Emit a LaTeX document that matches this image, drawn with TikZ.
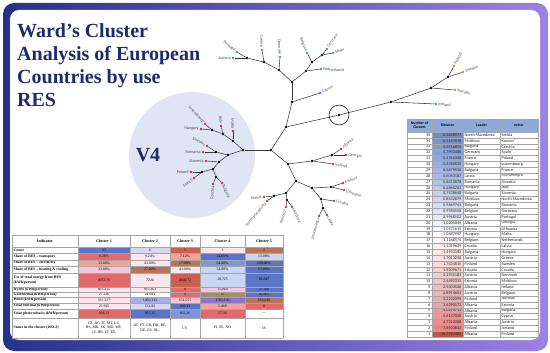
\documentclass[tikz,border=0pt]{standalone}
\usepackage{fontspec}
\setmainfont{Liberation Serif}
\newfontfamily\mapfont{Carlito}

\definecolor{navy}{HTML}{1F2B6C}
\definecolor{framel}{HTML}{27318A}
\definecolor{framer}{HTML}{9C82E2}
\definecolor{vfour}{HTML}{DFE5F2}
\definecolor{branchgray}{HTML}{3A3A3A}
\definecolor{lblgray}{HTML}{505050}
\definecolor{leafgreen}{HTML}{34B34A}
\definecolor{leafred}{HTML}{D8204F}
\definecolor{leafblue}{HTML}{3C6FD6}
\definecolor{leaforange}{HTML}{F07E22}
\definecolor{leafbrown}{HTML}{8E5B3E}
\definecolor{hdrblue}{HTML}{8EAADB}
\definecolor{distblue}{HTML}{4A6FC0}
\definecolor{distred}{HTML}{E25C5C}
\definecolor{distdark}{HTML}{B65A4A}
\definecolor{hmblue}{HTML}{5B74C6}
\definecolor{hmblue2}{HTML}{7F97D6}
\definecolor{hmlblue}{HTML}{C8D6F0}
\definecolor{hmlav}{HTML}{D6D6F2}
\definecolor{hmlav2}{HTML}{A9AEE6}
\definecolor{hmpurple}{HTML}{8A76CC}
\definecolor{hmred}{HTML}{E26A6A}
\definecolor{hmbrick}{HTML}{CF5E4E}
\definecolor{hmsalmon}{HTML}{F1A39B}
\definecolor{hmpink}{HTML}{F7C6D6}
\definecolor{hmlpink}{HTML}{FCE6EE}
\definecolor{hmbrown}{HTML}{B87459}
\definecolor{hmolive}{HTML}{A58A64}

\tikzset{
  titletxt/.style={font=\fontsize{20}{23}\selectfont\bfseries, text=navy, inner sep=0pt, align=left},
  inner/.style={circle, fill=black, inner sep=0pt, minimum size=2.6pt},
  leaf/.style={circle, fill=#1, inner sep=0pt, minimum size=2.6pt},
  lbl/.style={font=\mapfont\fontsize{4.2}{4.6}\selectfont, text=lblgray, inner xsep=2.2pt, inner ysep=0pt},
  branch/.style={draw=branchgray, line width=0.55pt},
  gridln/.style={draw=gray!70, line width=0.35pt},
  hdtxt/.style={font=\fontsize{4}{4.5}\selectfont\bfseries, inner sep=0pt},
  rowtxt/.style={font=\fontsize{3.8}{4.4}\selectfont\bfseries, inner sep=0pt, align=left},
  valtxt/.style={font=\fontsize{3.8}{4.4}\selectfont, inner sep=0pt},
  tabtxt/.style={font=\mapfont\fontsize{4.2}{4.6}\selectfont, text=black!85, inner sep=0pt},
  tabhd/.style={font=\mapfont\fontsize{3.8}{4.2}\selectfont\bfseries, inner sep=0pt, align=center}
}

% one coloured row of the indicator table
\newcommand\heatrow[4]{%
  \foreach \cc/\vv [count=\k] in {#4} {
    \pgfmathsetmacro\xa{{78,130,170,200,245}[\k-1]}
    \pgfmathsetmacro\xb{{130,170,200,245,283}[\k-1]}
    \fill[\cc] (\xa,#1) rectangle (\xb,#2);
    \node[valtxt] (#3\k) at ({(\xa+\xb)/2},{(#1+#2)/2}) {\vv};
  }}

\begin{document}
\begin{tikzpicture}[x=1pt,y=-1pt]

  \useasboundingbox (0,0) rectangle (550,353);

  % frame
  \shade[left color=framel, right color=framer, rounded corners=11pt] (3,3) rectangle (548,351);
  \fill[white, rounded corners=9pt] (10,10) rectangle (540,340);

  % title
  \node[titletxt, anchor=north west] (title) at (17,23) {Ward’s Cluster\\Analysis of European\\Countries by use\\RES};

  % V4 group
  \fill[vfour] (192,155) circle (63);
  \node[titletxt] (v4) at (148,155) {V4};

  % inner nodes of the tree
  \foreach \n/\x/\y in {a1/247/58, a2/264/62, a3/279/70, a4/292/82, b1/306/71, b2/312/62,
      b3/322/55, c1/292/102, c2/286/127, d1/339/115, e1/391/102, e2/431/88, e3/448/77,
      g1/271/150, g2/288/164, g3/312/161, g4/332/155, g5/296/181, g6/312/188, g7/331/187,
      g8/321/199, g9/323/208, g10/286/193, g11/274/196, g12/287/200, h0/243/150,
      h1/233/141, h2/223/134, h3/212/130, h4/228/155, h5/216/152, h6/219/162,
      h7/213/169, h8/202/172, h9/216/177}
    \node[inner] (\n) at (\x,\y) {};

  % countries
  \foreach \n/\x/\y/\c/\r/\a/\t in {
      austria/233/58/leafgreen/0/east/Austria,
      portugal/237/52/leafgreen/-38/east/Portugal,
      greece/262/50/leafgreen/-88/east/Greece,
      denmark/280/57/leafgreen/-88/east/Denmark,
      belgium/307/53/leafgreen/-68/east/Belgium,
      germany/327/49/leafgreen/55/west/Germany,
      spain/333/53/leafgreen/17/west/Spain,
      netherlands/321/69/leafgreen/-4/west/Netherlands,
      cyprus/320/93/leafblue/25/west/Cyprus,
      iceland/436/104/leafgreen/-4/west/Iceland,
      norway/455/90/leaforange/-14/west/Norway,
      sweden/463/72/leaforange/20/west/Sweden,
      finland/454/66/leaforange/62/west/Finland,
      italy/221/126/leafred/-85/east/Italy,
      malta/233/131/leafred/-88/east/Malta,
      luxembourg/205/124/leafred/-48/east/Luxembourg,
      hungary/201/129/leafred/0/east/Hungary,
      slovakia/207/146/leafred/-30/east/Slovakia,
      romania/203/152/leafred/0/east/Romania,
      slovenia/206/161/leafred/0/east/Slovenia,
      poland/191/172/leafred/0/east/Poland,
      france/194/178/leafred/40/east/France,
      czechia/213/184/leafred/85/east/Czechia,
      bulgaria/222/183/leafred/-65/west/Bulgaria,
      albania/341/149/leafred/40/west/Albania,
      georgia/346/155/leafred/-5/west/Georgia,
      ireland/333/164/leafred/-10/west/Ireland,
      estonia/343/183/leafred/20/west/Estonia,
      lithuania/344/190/leafbrown/-20/west/Lithuania,
      croatia/334/201/leafbrown/-12/west/Croatia,
      montenegro/319/216/leafbrown/75/east/Montenegro,
      latvia/327/215/leafbrown/-60/west/Latvia,
      serbia/264/197/leafbrown/5/east/Serbia,
      northmacedonia/267/201/leafbrown/50/east/North Macedonia,
      kosovo/286/207/leafbrown/72/east/Kosovo*,
      moldova/292/207/leafbrown/-62/west/Moldova}
  {
    \node[leaf=\c] (\n) at (\x,\y) {};
    \node[lbl, rotate=\r, anchor=\a] (\n-t) at (\n) {\t};
  }

  % branches
  \foreach \p/\q in {a1/austria, a1/portugal, a2/a1, a2/greece, a3/a2, a3/denmark, a4/a3,
      a4/b1, b1/netherlands, b1/b2, b2/belgium, b2/b3, b3/germany, b3/spain, c1/a4,
      c1/cyprus, c2/c1, c2/d1, d1/e1, e1/iceland, e1/e2, e2/norway, e2/e3, e3/finland,
      e3/sweden, c2/g1, g1/h0, h0/h1, h1/malta, h1/h2, h2/italy, h2/h3, h3/luxembourg,
      h3/hungary, h0/h4, h4/h5, h5/slovakia, h5/romania, h4/h6, h6/slovenia, h6/h7,
      h7/h8, h8/poland, h8/france, h7/h9, h9/czechia, h9/bulgaria, g1/g2, g2/g3,
      g3/ireland, g3/g4, g4/albania, g4/georgia, g2/g5, g5/g6, g6/g7, g7/estonia,
      g7/lithuania, g6/g8, g8/croatia, g8/g9, g9/montenegro, g9/latvia, g5/g10,
      g10/g11, g11/serbia, g11/northmacedonia, g10/g12, g12/kosovo, g12/moldova}
    \draw[branch] (\p) -- (\q);

  % root mark
  \draw[line width=0.5pt] (d1) circle (10);

  % indicator table
  \foreach \t/\xa/\xb [count=\k] in {Indicator/12/78, Cluster 1/78/130, Cluster 2/130/170,
      Cluster 3/170/200, Cluster 4/200/245, Cluster 5/245/283}
    \node[hdtxt] (hd\k) at ({(\xa+\xb)/2},241) {\t};

  \heatrow{247}{253}{cnt}{hmblue/23, hmlav/6, hmbrick/1, hmlpink/1, hmbrown/2}
  \heatrow{253}{260}{tra}{hmred/8.26\%, hmlpink/9.24\%, hmsalmon/7.12\%, hmblue/24.06\%, hmlblue/13.08\%}
  \heatrow{260}{266}{ele}{hmsalmon/33.00\%, hmlpink/43.00\%, hmbrown/17.00\%, hmblue2/64.00\%, hmblue/100.00\%}
  \heatrow{266}{273}{hea}{hmpink/33.00\%, hmbrown/27.00\%, hmlpink/43.00\%, hmlblue/54.00\%, hmblue/67.00\%}
  \heatrow{273}{287}{use}{hmred/4052.76, hmlpink/7224, hmbrick/4660.72, hmlblue/{28,725}, hmblue/{83,847}}
  \heatrow{287}{292}{hyd}{hmlpink/865.215, hmlpink/915.263, hmred/0, hmpink/{11,064}, hmblue/{27,366}}
  \heatrow{292}{297}{geo}{hmlpink/27.226, white/24.601, hmred/0, hmolive/0, hmblue/{45,865}}
  \heatrow{297}{303}{win}{hmlpink/335.337, hmlav2/1450.313, hmpink/154.555, hmpurple/1761.146, hmbrown/183.246}
  \heatrow{303}{309}{sth}{hmlpink/25.945, hmlav/131.82, hmblue/300.13, hmsalmon/5.468, hmred/0}
  \heatrow{309}{318}{spv}{hmred/108.13, hmblue/955.15, hmblue2/665.26, hmred/17.36, white/—}

  \foreach \t/\yy [count=\k] in {Count/250, {Share of RES – transport}/256.5,
      {Share of RES – electricity}/263, {Share of RES – heating \& cooling}/269.5,
      {Use of total energy from RES\\(kWh/person)}/280, {Hydro (kWh/person)}/289.5,
      {Geothermal (kWh/person)}/294.5, {Wind (kWh/person)}/300,
      {Solar thermal (kWh/person)}/306, {Solar photovoltaics (kWh/person)}/313.5,
      {States in the cluster (ISO-2)}/328}
    \node[rowtxt, anchor=west] (lab\k) at (13.5,\yy) {\t};

  \node[valtxt, align=center] (st1) at (104,328) {CZ, BG, IT, MT, LU,\\RS, MK, SK, MD, ME,\\LV, HR, LT, EE,};
  \node[valtxt, align=center] (st2) at (150,328) {AT, PT, GR, DK, BE,\\DE, ES, NL,};
  \node[valtxt] (st3) at (185,328) {CY};
  \node[valtxt] (st4) at (222.5,328) {FI, SE, NO};
  \node[valtxt] (st5) at (264,328) {IS};

  \foreach \yy in {235,247,253,260,266,273,287,292,297,303,309,318,338}
    \draw[gridln] (12,\yy) -- (283,\yy);
  \foreach \xx in {12,78,130,170,200,245,283}
    \draw[gridln] (\xx,235) -- (\xx,338);

  % agglomeration schedule
  \fill[hdrblue] (407,119) rectangle (538,132);
  \node[tabhd] (hnum) at (419.5,125.5) {Number of\\Clusters};
  \node[tabhd] (hdist) at (447.5,125.5) {Distance};
  \node[tabhd] (hlead) at (481.5,125.5) {Leader};
  \node[tabhd] (hjoin) at (519,125.5) {Joiner};

  \foreach \k/\d/\l/\j [count=\i from 0] in {
      35/0.2698977/North Macedonia/Serbia, 34/0.3157018/Moldova/Kosovo*,
      33/0.3716855/Bulgaria/Czechia, 32/0.3953486/Germany/Spain,
      31/0.4316358/France/Poland, 30/0.4760830/Hungary/Luxembourg,
      29/0.5679534/Bulgaria/France, 28/0.6053187/Latvia/Montenegro,
      27/0.6413878/Romania/Slovakia, 26/0.6868203/Hungary/Italy,
      25/0.7538658/Bulgaria/Slovenia, 24/0.8532679/Moldova/North Macedonia,
      23/0.9669763/Bulgaria/Romania, 22/0.9780558/Belgium/Germany,
      21/0.9968502/Austria/Portugal, 20/1.0205049/Albania/Georgia,
      19/1.0571615/Estonia/Lithuania, 18/1.0687907/Hungary/Malta,
      17/1.1168574/Belgium/Netherlands, 16/1.1319629/Croatia/Latvia,
      15/1.4933183/Bulgaria/Hungary, 14/1.7013248/Austria/Greece,
      13/1.7434815/Finland/Sweden, 12/1.9209671/Estonia/Croatia,
      11/2.2745183/Austria/Denmark, 10/2.4492315/Estonia/Moldova,
      9/2.5303526/Albania/Ireland, 8/2.8914603/Austria/Belgium,
      7/3.2232099/Finland/Norway, 6/3.6290172/Albania/Estonia,
      5/4.0274711/Albania/Bulgaria, 4/4.6147058/Austria/Cyprus,
      3/4.7212088/Albania/Austria, 2/7.6933842/Finland/Iceland,
      1/10.7727482/Albania/Finland}
  {
    \pgfmathsetmacro\ya{132+\i*5.857}
    \pgfmathsetmacro\ym{132+(\i+0.5)*5.857}
    \pgfmathtruncatemacro\sh{abs(17-\i)*80/17}
    \ifnum\i<17 \def\dc{distblue!\sh!white}\else\def\dc{distred!\sh!white}\fi
    \ifnum\i=34 \def\dc{distdark}\fi
    \fill[\dc] (432,\ya) rectangle (463,\ya+5.857);
    \node[tabtxt, anchor=east] (num\i) at (430.5,\ym) {\k};
    \node[tabtxt, anchor=east] (dist\i) at (461.5,\ym) {\d};
    \node[tabtxt, anchor=west] (lead\i) at (464.5,\ym) {\l};
    \node[tabtxt, anchor=west] (join\i) at (501.5,\ym) {\j};
  }

  \foreach \i in {0,...,35}
    \draw[gridln] (407,132+\i*5.857) -- (538,132+\i*5.857);
  \foreach \xx in {407,432,463,500,538}
    \draw[gridln] (\xx,119) -- (\xx,337);
  \draw[gridln] (407,119) -- (538,119);

\end{tikzpicture}
\end{document}
